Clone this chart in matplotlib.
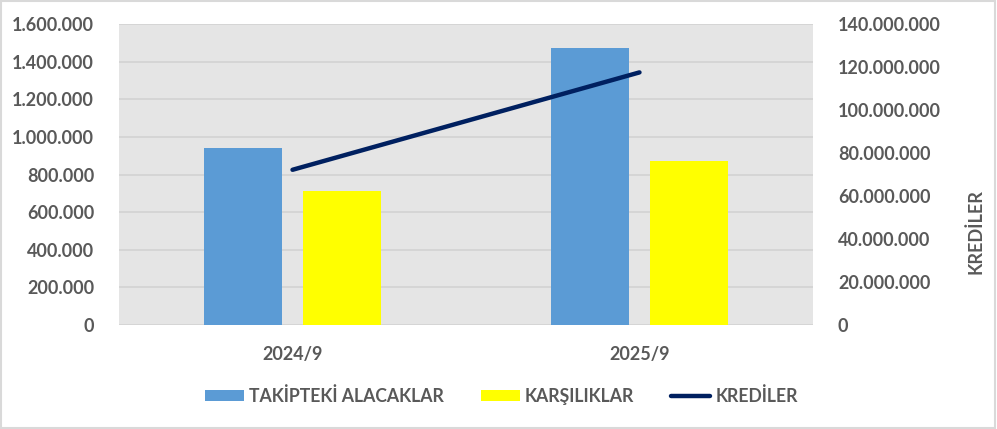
import matplotlib.pyplot as plt
import matplotlib.ticker as mticker
import numpy as np

periods = ["2024/9", "2025/9"]
takipteki = [940000, 1472000]
karsiliklar = [710000, 870000]
krediler = [72200000, 117500000]

plt.rcParams['font.family'] = ['Lato', 'DejaVu Sans']
plt.rcParams['font.weight'] = 'bold'
txt = '#595959'


def dotted(v, pos):
    return f"{int(v):,}".replace(",", ".")


fig = plt.figure(figsize=(9.97, 4.29), dpi=100)
ax = fig.add_axes([0.1194, 0.2424, 0.696, 0.7016])
ax.set_facecolor('#e5e5e5')

x = np.arange(len(periods))
ax.bar(x - 0.143, takipteki, 0.225, color='#5b9bd5', label='TAKİPTEKİ ALACAKLAR', zorder=2)
ax.bar(x + 0.143, karsiliklar, 0.225, color='#ffff00', label='KARŞILIKLAR', zorder=2)
ax.set_xlim(-0.5, 1.5)
ax.set_ylim(0, 1600000)
ax.set_yticks(np.arange(0, 1600001, 200000))
ax.yaxis.set_major_formatter(mticker.FuncFormatter(dotted))
ax.grid(axis='y', color='#d2d2d2', linewidth=1.2, zorder=0)
ax.set_axisbelow(True)
ax.set_xticks(x)
ax.set_xticklabels(periods)
ax.tick_params(length=0, labelsize=13, labelcolor=txt)
ax.tick_params(axis='x', pad=15)
ax.tick_params(axis='y', pad=18)
for s in ax.spines.values():
    s.set_visible(False)

ax2 = ax.twinx()
ax2.plot(x, krediler, color='#002060', linewidth=3.2, solid_capstyle='round', label='KREDİLER')
ax2.set_ylim(0, 140000000)
ax2.set_yticks(np.arange(0, 140000001, 20000000))
ax2.yaxis.set_major_formatter(mticker.FuncFormatter(dotted))
ax2.tick_params(length=0, labelsize=13, labelcolor=txt, pad=18)
ax2.set_ylabel('KREDİLER', color=txt, fontsize=13, fontweight='bold')
ax2.yaxis.set_label_coords(1.222, 0.31)
for s in ax2.spines.values():
    s.set_visible(False)

h1, l1 = ax.get_legend_handles_labels()
h2, l2 = ax2.get_legend_handles_labels()
leg = fig.legend(h1 + h2, l1 + l2, loc='center', bbox_to_anchor=(0.503, 0.077), ncol=3,
                 frameon=False, fontsize=12.7, handlelength=2.2, handleheight=0.55,
                 handletextpad=0.3, columnspacing=2.1)
for t in leg.get_texts():
    t.set_color(txt)

fig.patches.append(plt.Rectangle((0.001, 0.002), 0.997, 0.995, transform=fig.transFigure,
                                 fill=False, edgecolor='#d9d9d9', linewidth=1.5))

fig.savefig('out.png', dpi=100)
